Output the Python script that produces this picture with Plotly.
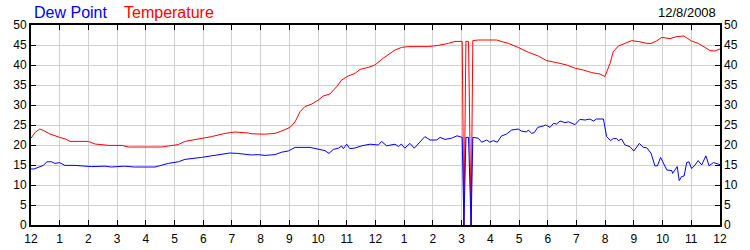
import plotly.graph_objects as go

# ---- data (hours since midnight, degrees) ----
temp_hours = [0.0, 0.15, 0.31, 0.45, 0.66, 0.85, 1.0, 1.2, 1.36, 2.0, 2.23, 2.7, 3.17, 3.39, 3.97,
              4.55, 4.78, 5.13, 5.36, 5.83, 6.29, 6.76, 7.1, 7.57, 7.69, 8.13, 8.5, 8.73, 9.02, 9.2,
              9.37, 9.54, 9.78, 10.01, 10.18, 10.41, 10.65, 10.82, 11.05, 11.29, 11.46, 11.75, 11.98,
              12.27, 12.5, 12.68, 12.91, 13.14, 13.84, 14.19, 14.54, 14.77, 15.02, 15.08, 15.15, 15.24,
              15.33, 15.39, 15.58, 16.22, 16.45, 16.63, 16.97, 17.32, 17.67, 17.96, 18.31, 18.66, 18.95,
              19.24, 19.53, 19.82, 19.99, 20.17, 20.28, 20.46, 20.69, 20.92, 21.21, 21.45, 21.6, 21.79,
              21.97, 22.26, 22.49, 22.74, 23.01, 23.24, 23.48, 23.65, 23.82, 24.0]
temperature = [21.7, 23.2, 24.0, 23.6, 22.75, 22.2, 21.9, 21.5, 20.9, 20.9, 20.25, 19.9, 19.9, 19.5, 19.5,
               19.5, 19.75, 20.1, 20.9, 21.5, 22.1, 22.9, 23.25, 23.0, 22.8, 22.7, 22.9, 23.5, 24.4, 25.8,
               28.3, 29.6, 30.25, 31.25, 32.25, 32.75, 34.6, 36.25, 37.25, 37.9, 38.9, 39.4, 40.0,
               41.7, 42.9, 43.75, 44.4, 44.6, 44.6, 44.9, 45.4, 45.9, 45.9, 0, 45.9, 45.9,
               0, 46.1, 46.25, 46.25, 45.75, 45.4, 44.4, 43.2, 42.25, 41.1, 40.6, 40.0, 39.2,
               38.75, 38.1, 37.75, 37.1, 40.4, 43.3, 44.75, 45.4, 46.1, 45.8, 45.4, 45.4, 46.0,
               46.9, 46.6, 47.1, 47.25, 46.0, 45.4, 44.4, 43.6, 43.5, 44.0]

dew_hours = [0.0, 0.1, 0.43, 0.55, 0.72, 0.83, 1.0, 1.18, 1.53, 2.11, 2.58, 2.8, 3.25, 3.6, 4.32, 4.49,
             4.78, 5.13, 5.36, 5.94, 6.41, 6.76, 6.93, 7.2, 7.69, 7.9, 8.15, 8.5, 8.73, 8.96, 9.2, 9.72,
             10.01, 10.24, 10.38, 10.53, 10.71, 10.82, 10.88, 11.0, 11.1, 11.29, 11.52, 11.81, 12.1,
             12.21, 12.39, 12.68, 12.8, 12.9, 13.02, 13.2, 13.35, 13.55, 13.72, 13.9, 14.13, 14.25,
             14.42, 14.65, 14.84, 15.02, 15.08, 15.15, 15.24, 15.33, 15.39, 15.58, 15.7, 15.87, 15.98,
             16.1, 16.24, 16.39, 16.57, 16.74, 16.97, 17.08, 17.26, 17.32, 17.44, 17.53, 17.65, 17.84,
             17.93, 18.08, 18.2, 18.31, 18.43, 18.6, 18.72, 18.95, 19.12, 19.3, 19.47, 19.59, 19.7,
             19.94, 19.99, 20.05, 20.19, 20.28, 20.4, 20.46, 20.57, 20.69, 20.86, 21.0, 21.19, 21.33,
             21.45, 21.6, 21.73, 21.82, 21.93, 22.08, 22.15, 22.32, 22.35, 22.51, 22.58, 22.66, 22.75,
             22.84, 22.92, 23.01, 23.13, 23.24, 23.36, 23.51, 23.62, 23.77, 23.88, 24.0]
dew_point = [14.0, 14.0, 14.9, 15.8, 15.8, 15.4, 15.6, 14.9, 14.9, 14.6, 14.7, 14.5, 14.7, 14.5, 14.5, 14.9,
             15.4, 15.8, 16.4, 16.9, 17.4, 17.75, 18.0, 17.9, 17.5, 17.6, 17.4, 17.6, 18.2, 18.5, 19.4, 19.4,
             18.9, 18.6, 17.9, 18.9, 19.2, 19.75, 19.1, 20.2, 19.1, 19.25, 19.8, 20.2, 20.0,
             20.9, 19.8, 20.2, 19.6, 20.25, 19.2, 20.4, 19.2, 20.8, 22.1, 21.25, 21.25, 21.9,
             21.4, 21.7, 22.3, 21.9, 0, 21.9, 21.9, 0, 21.9, 21.7, 20.7, 21.25, 20.7,
             21.1, 20.7, 22.25, 22.75, 23.75, 24.0, 23.5, 23.25, 23.75, 22.9, 23.1, 24.4, 24.75,
             25.0, 24.4, 25.4, 25.25, 26.0, 25.6, 25.8, 25.1, 26.4, 26.25, 26.5, 26.0, 26.5,
             26.5, 24.2, 22.1, 21.1, 21.6, 21.6, 21.1, 21.5, 20.0, 19.6, 18.5, 20.4, 19.4,
             19.3, 17.9, 14.8, 14.8, 16.9, 15.0, 13.75, 13.6, 12.9, 14.6, 11.1, 12.1, 12.25,
             15.6, 15.8, 14.1, 15.0, 16.1, 15.0, 17.3, 14.8, 15.6, 15.4, 15.1]

x_tickvals = list(range(25))
x_ticktext = ["12", "1", "2", "3", "4", "5", "6", "7", "8", "9", "10", "11",
              "12", "1", "2", "3", "4", "5", "6", "7", "8", "9", "10", "11", "12"]
y_tickvals = [0, 5, 10, 15, 20, 25, 30, 35, 40, 45, 50]
date_label = "12/8/2008"
series_names = ["Dew Point", "Temperature"]

FONT = "Liberation Sans, Arial, sans-serif"

fig = go.Figure()
fig.add_trace(go.Scatter(x=temp_hours, y=temperature, mode="lines", name=series_names[1],
                         line=dict(color="#ff0000", width=1), hoverinfo="x+y"))
fig.add_trace(go.Scatter(x=dew_hours, y=dew_point, mode="lines", name=series_names[0],
                         line=dict(color="#0000ff", width=1), yaxis="y2", hoverinfo="x+y"))

axis_common = dict(ticks="inside", ticklen=5, tickcolor="black", tickwidth=1, automargin=False,
                   tickfont=dict(family=FONT, size=12, color="black"))

fig.update_layout(
    width=750, height=250,
    margin=dict(l=31, r=30, t=25, b=25),
    paper_bgcolor="white", plot_bgcolor="white",
    showlegend=False,
    xaxis=dict(range=[0, 24], tickmode="array", tickvals=x_tickvals, ticktext=x_ticktext,
               showgrid=True, gridcolor="#d0d0d0", gridwidth=1,
               showline=True, linecolor="black", linewidth=2, mirror="ticks",
               zeroline=False, ticklabelstandoff=2, **axis_common),
    yaxis=dict(range=[0, 50], tickmode="array", tickvals=y_tickvals,
               showgrid=True, gridcolor="#d0d0d0", gridwidth=1,
               showline=True, linecolor="black", linewidth=2, mirror=True,
               zeroline=False, **axis_common),
    yaxis2=dict(range=[0, 50], tickmode="array", tickvals=y_tickvals, overlaying="y", side="right",
                showgrid=False, showline=False, zeroline=False, ticklabelstandoff=3, **axis_common),
    annotations=[
        dict(text=series_names[0], x=32, y=12.5, xref="paper", yref="paper", showarrow=False,
             font=dict(family=FONT, size=16, color="#0000ff"), xanchor="left", yanchor="middle"),
        dict(text=series_names[1], x=122, y=12.5, xref="paper", yref="paper", showarrow=False,
             font=dict(family=FONT, size=16, color="#ff0000"), xanchor="left", yanchor="middle"),
        dict(text=date_label, x=718, y=12, xref="paper", yref="paper", showarrow=False,
             font=dict(family=FONT, size=13, color="black"), xanchor="right", yanchor="middle"),
    ],
)

# convert pixel positions of annotations to paper coords
pw, ph = 750 - 31 - 30, 250 - 25 - 25
for a in fig.layout.annotations:
    a.x = (a.x - 31) / pw
    a.y = (250 - 25 - a.y) / ph

fig.write_html("out.html")
